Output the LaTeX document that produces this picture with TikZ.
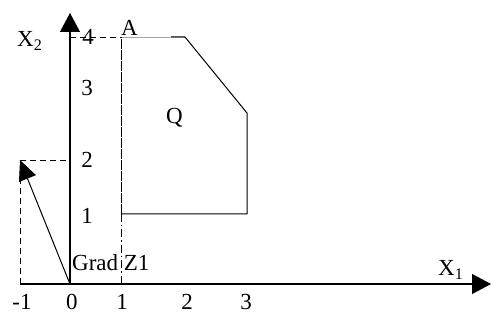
\documentclass[tikz,border=0pt]{standalone}
\usepackage{fontspec}
\setmainfont{Liberation Serif}
\usetikzlibrary{arrows.meta}
\begin{document}
\begin{tikzpicture}[x=1pt,y=-1pt,
  lbl/.style={inner sep=0pt,font=\fontsize{23}{25}\selectfont},
  axis/.style={line width=1.2pt,-{Triangle[length=19pt,width=20pt]}},
  guide/.style={line width=0.9pt,dash pattern=on 6pt off 4pt}]
\useasboundingbox (0,0) rectangle (491,320);
% coordinates
\coordinate (O) at (70,284);
\coordinate (xend) at (491,284);
\coordinate (xstart) at (20,284);
\coordinate (yend) at (70,13);
\coordinate (G) at (20,160);
\coordinate (G2) at (70,160);
\coordinate (Gb) at (20,284);
\coordinate (P1) at (121,37);
\coordinate (P2) at (185,37);
\coordinate (P3) at (247,113);
\coordinate (P4) at (247,214);
\coordinate (P5) at (121,214);
\coordinate (P6) at (121,284);
\coordinate (Y4) at (70,37);
% axes
\draw[axis] (xstart) -- (xend);
\draw[axis] (O) -- (yend);
% gradient
\draw[line width=1pt,-{Triangle[length=20pt,width=18pt]}] (O) -- (G);
\draw[guide] (G) -- (G2);
\draw[guide] (Gb) -- (G);
\draw[guide] (Y4) -- (P1);
\draw[line width=0.9pt,dash pattern=on 8pt off 3pt on 1.5pt off 3pt] (P5) -- (P6);
% region Q
\draw[gray!70,line width=0.8pt] (P1) -- (P2);
\draw[line width=1pt] (171,37) -- (P2) -- (P3) -- (P4) -- (P5);
\draw[line width=1pt,dash pattern=on 10pt off 1pt] (P5) -- (P1);
% labels
\node[lbl,anchor=base west] (x2) at (17,47) {X\textsubscript{2}};
\node[lbl,anchor=base west] (a) at (121,36) {A};
\node[lbl,anchor=base west] (q) at (166,124) {Q};
\node[lbl,anchor=base west] (grad) at (72,271) {Grad Z1};
\node[lbl,anchor=base west] (x1) at (438,276) {X\textsubscript{1}};
\node[lbl,anchor=base] (t4) at (88,45) {4};
\node[lbl,anchor=base] (t3) at (87,96) {3};
\node[lbl,anchor=base] (t2) at (87,168) {2};
\node[lbl,anchor=base] (t1) at (87,224) {1};
\node[lbl,anchor=base] (tm1) at (22,310) {-1};
\node[lbl,anchor=base] (t0) at (72,310) {0};
\node[lbl,anchor=base] (u1) at (122,310) {1};
\node[lbl,anchor=base] (u2) at (187,310) {2};
\node[lbl,anchor=base] (u3) at (246,310) {3};
\end{tikzpicture}
\end{document}
